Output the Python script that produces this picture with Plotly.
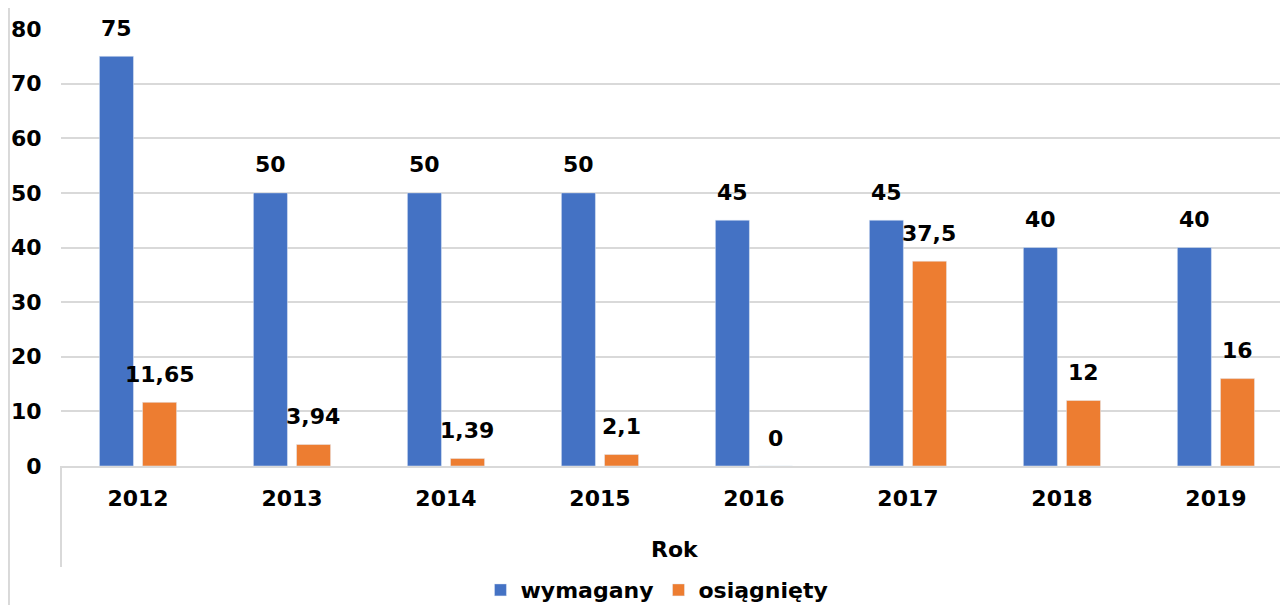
import plotly.graph_objects as go

years = ["2012", "2013", "2014", "2015", "2016", "2017", "2018", "2019"]
required = [75, 50, 50, 50, 45, 45, 40, 40]
achieved = [11.65, 3.94, 1.39, 2.1, 0, 37.5, 12, 16]

BLUE = "#4472C4"
ORANGE = "#ED7D31"
GRID = "#D9D9D9"
FONT = "Verdana, DejaVu Sans, sans-serif"
BAR_SHIFT = 21.5
BOLD = dict(family=FONT, size=22, color="black", weight="bold")

# the page puts the figure 8px from the top-left corner
W, H = 1280, 597
L, T, B = 53, 21, 139


def _fmt(v):
    return f"{v:g}".replace(".", ",")


fig = go.Figure()
fig.add_trace(go.Bar(x=years, y=required, name="wymagany", marker_color=BLUE))
fig.add_trace(go.Bar(x=years, y=achieved, name="osiągnięty", marker_color=ORANGE))

annotations = []
for series, shift in ((required, -BAR_SHIFT), (achieved, BAR_SHIFT)):
    for i, v in enumerate(series):
        annotations.append(dict(
            x=i, y=v, xref="x", yref="y", text=_fmt(v), showarrow=False,
            xshift=shift, yshift=28, yanchor="middle", font=BOLD,
        ))

annotations.append(dict(
    x=0.5, y=-0.192, xref="paper", yref="paper", text="Rok", showarrow=False,
    yanchor="middle", font=BOLD,
))

fig.update_layout(
    width=W,
    height=H,
    margin=dict(l=L, r=0, t=T, b=B, autoexpand=False),
    paper_bgcolor="white",
    plot_bgcolor="white",
    barmode="group",
    bargap=0.44,
    bargroupgap=0.21,
    font=BOLD,
    showlegend=True,
    legend=dict(
        orientation="h", xref="container", yref="container",
        x=0.507, xanchor="center", y=0.025, yanchor="middle",
        font=BOLD, itemwidth=30, tracegroupgap=0,
    ),
    annotations=annotations,
    shapes=[
        dict(type="line", xref="paper", yref="paper", x0=0, x1=0, y0=0, y1=-0.231,
             line=dict(color=GRID, width=2)),
        dict(type="line", xref="paper", yref="paper", x0=-0.0424, x1=-0.0424, y0=-0.32, y1=1.07,
             line=dict(color=GRID, width=2)),
    ],
)
fig.update_xaxes(
    type="category",
    automargin=False,
    range=[-0.5, 7.468],
    showgrid=False,
    showline=True,
    linecolor=GRID,
    linewidth=2,
    ticks="outside",
    ticklen=12,
    tickcolor="rgba(0,0,0,0)",
    tickfont=BOLD,
)
fig.update_yaxes(
    automargin=False,
    range=[0, 80],
    dtick=10,
    showgrid=True,
    gridcolor=GRID,
    gridwidth=2,
    zeroline=False,
    showline=False,
    ticks="outside",
    ticklen=14,
    tickcolor="rgba(0,0,0,0)",
    tickfont=BOLD,
)

fig.write_html("out.html")
